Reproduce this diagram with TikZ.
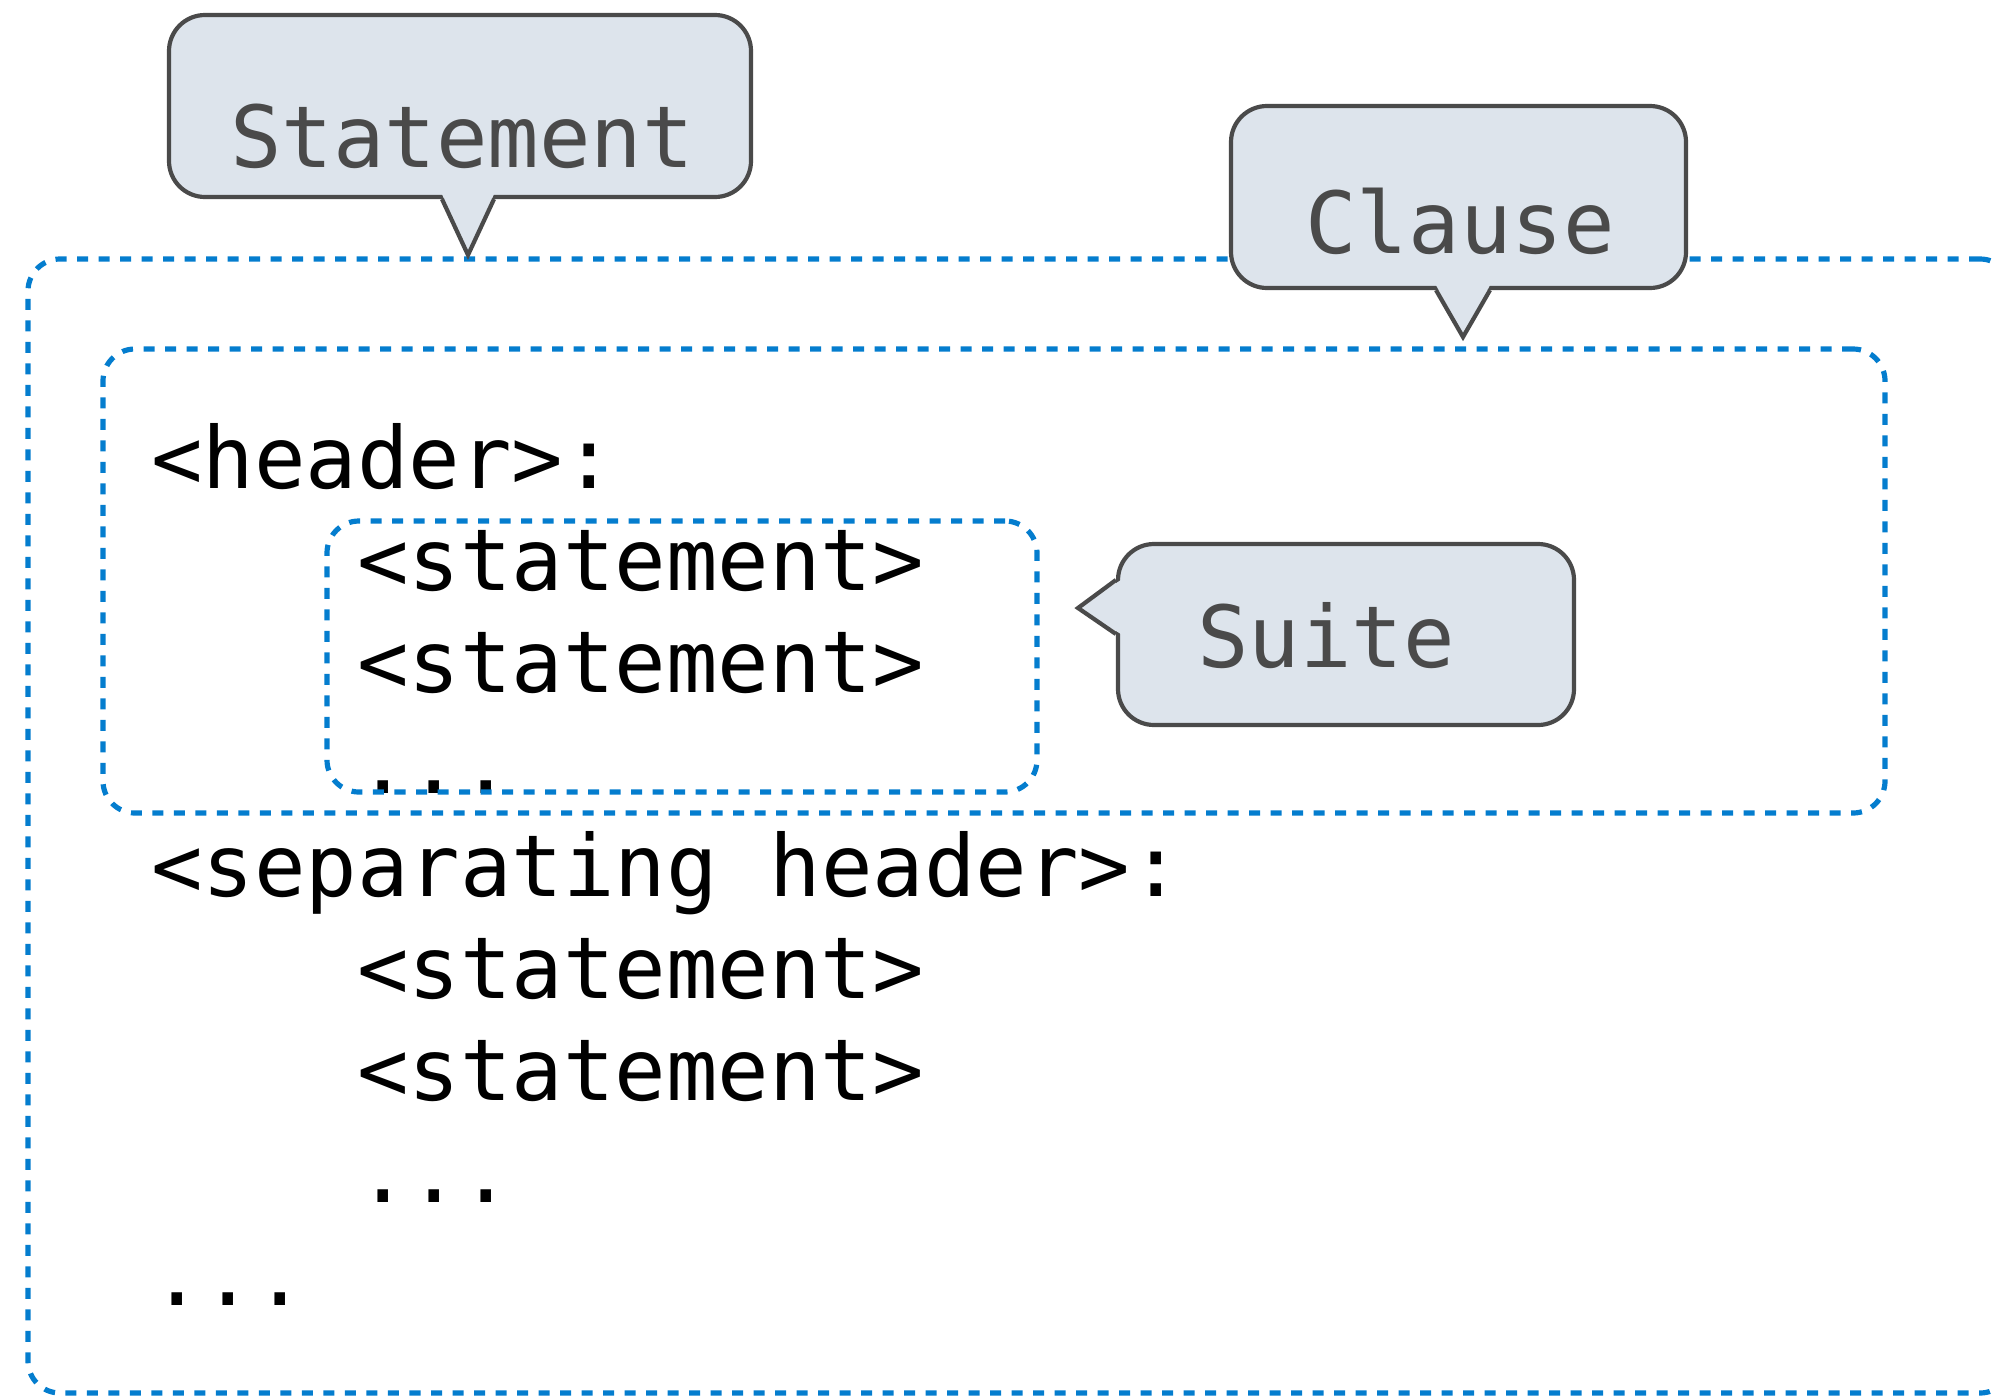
\documentclass[tikz,border=0pt]{standalone}
\usepackage{fontspec}
\newfontfamily\codefont{DejaVu Sans Mono}
\usetikzlibrary{calc}
\definecolor{dashblue}{RGB}{4,125,206}
\definecolor{calfill}{RGB}{221,228,236}
\definecolor{calline}{RGB}{74,74,74}
\begin{document}
\begin{tikzpicture}[x=1pt,y=-1pt,
  code/.style={anchor=base west, inner sep=0pt, text=black,
    font=\codefont\fontsize{85.6pt}{102pt}\selectfont},
  caltext/.style={inner sep=0pt, text=calline,
    font=\codefont\fontsize{85.6pt}{102pt}\selectfont},
  region/.style={draw=dashblue, line width=5.2pt, dash pattern=on 11pt off 10.5pt,
    rounded corners=32pt, rectangle, inner sep=0pt},
  calbox/.style={draw=calline, fill=calfill, line width=4.2pt, rounded corners=36pt,
    rectangle, inner sep=0pt},
  calptr/.style={draw=calline, line width=4.2pt, line join=miter},
]
\useasboundingbox (0,0) rectangle (1997,1395);
\clip (0,0) rectangle (1997,1395);

% code text
\node[code] (h1) at (151,488) {<header>:};
\node[code] (s1) at (357,590) {<statement>};
\node[code] (s2) at (357,692) {<statement>};
\node[code] (d1) at (357,793) {...};
\node[code] (h2) at (151,896) {<separating header>:};
\node[code] (s3) at (357,998) {<statement>};
\node[code] (s4) at (357,1100) {<statement>};
\node[code] (d2) at (357,1202) {...};
\node[code] (d3) at (151,1305) {...};

% dashed regions
\node[region, minimum width=1984pt, minimum height=1134pt] (outer) at (1020,826) {};
\node[region, minimum width=1782pt, minimum height=464pt] (clause) at (994,581) {};
\node[region, minimum width=710pt, minimum height=271pt] (suite) at (682,656.5) {};

% Statement callout
\node[calbox, minimum width=582pt, minimum height=182pt] (stmtbox) at (460,106) {};
\coordinate (stmttip) at (468,255);
\fill[calfill] ($(stmtbox.south)+(-18,-5)$) -- (stmttip) -- ($(stmtbox.south)+(34,-5)$) -- cycle;
\draw[calptr] ($(stmtbox.south)+(-18,0)$) -- (stmttip) -- ($(stmtbox.south)+(34,0)$);
\node[caltext, anchor=base] (stmttext) at (462,167) {Statement};

% Clause callout
\node[calbox, minimum width=455pt, minimum height=182pt] (clbox) at (1458.5,197) {};
\coordinate (cltip) at (1463,337);
\fill[calfill] ($(clbox.south)+(-22.5,-5)$) -- (cltip) -- ($(clbox.south)+(31.5,-5)$) -- cycle;
\draw[calptr] ($(clbox.south)+(-22.5,0)$) -- (cltip) -- ($(clbox.south)+(31.5,0)$);
\node[caltext, anchor=base] (cltext) at (1460,253) {Clause};

% Suite callout
\node[calbox, minimum width=456pt, minimum height=181pt] (subox) at (1346,634.5) {};
\coordinate (sutip) at (1078,608);
\fill[calfill] ($(subox.west)+(5,-54.5)$) -- (sutip) -- ($(subox.west)+(5,-0.5)$) -- cycle;
\draw[calptr] ($(subox.west)+(0,-54.5)$) -- (sutip) -- ($(subox.west)+(0,-0.5)$);
\node[caltext, anchor=base west] (sutext) at (1197,667) {Suite};
\end{tikzpicture}
\end{document}
